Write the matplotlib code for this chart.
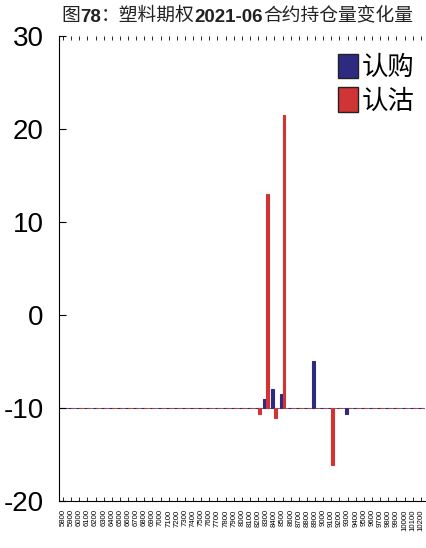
import matplotlib.pyplot as plt
import numpy as np

plt.rcParams['font.family'] = ['Liberation Sans', 'Noto Sans CJK SC']
plt.rcParams['axes.unicode_minus'] = False

strikes = [str(s) for s in range(5800, 10300, 100)]
# change in open interest, bars start from the -10 baseline
call_chg = [0] * 45
put_chg = [0] * 45
call_chg[strikes.index('8300')] = 1.0
call_chg[strikes.index('8400')] = 2.0
call_chg[strikes.index('8500')] = 1.5
call_chg[strikes.index('8900')] = 5.0
call_chg[strikes.index('9300')] = -0.6
put_chg[strikes.index('8200')] = -0.6
put_chg[strikes.index('8300')] = 23.0
put_chg[strikes.index('8400')] = -1.1
put_chg[strikes.index('8500')] = 31.5
put_chg[strikes.index('9100')] = -6.1
base = -10

fig = plt.figure(figsize=(4.27, 5.48), dpi=100)
ax = fig.add_axes([0.138, 0.0858, 0.857, 0.8485])

x = np.arange(len(strikes))
w = 0.36
ax.bar(x - w / 2, call_chg, w, bottom=base, color='#2e2a82', edgecolor='#2e2a82',
       linewidth=0.8, label='认购')
ax.bar(x + w / 2, put_chg, w, bottom=base, color='#d03434', edgecolor='#d03434',
       linewidth=0.8, label='认沽')
ax.axhline(base, color='#555555', linewidth=0.6, zorder=0)

ax.set_ylim(-20, 30)
ax.set_xlim(-0.5, len(strikes) - 0.5)
ax.set_yticks([-20, -10, 0, 10, 20, 30])
ax.tick_params(axis='y', direction='in', labelsize=20, length=5, pad=11)
ax.set_xticks(x)
ax.set_xticklabels(strikes, rotation=90, fontsize=5.6)
ax.tick_params(axis='x', direction='in', top=True, length=3, width=0.6, pad=6)
ax.spines['right'].set_visible(False)
ax.spines['top'].set_visible(False)

leg = ax.legend(loc='upper right', bbox_to_anchor=(1.0, 0.985), frameon=False,
                prop={'family': ['Noto Sans CJK SC'], 'size': 19},
                handlelength=0.75, handleheight=1.05, handletextpad=0.15,
                labelspacing=0.25, borderaxespad=0)
for h in leg.legend_handles:
    h.set_edgecolor('#222222')
    h.set_linewidth(1.0)

# title with bold digits
parts = [('图', 'normal'), ('78', 'bold'), ('：塑料期权', 'normal'),
         ('2021-06', 'bold'), ('合约持仓量变化量', 'normal')]
t = fig.text(0.143, 0.962, parts[0][0], fontsize=13.5, fontweight=parts[0][1],
             family=['Noto Sans CJK SC'], va='baseline', color='#222222')
for txt, wt in parts[1:]:
    fam = ['Liberation Sans'] if wt == 'bold' else ['Noto Sans CJK SC']
    t = ax.annotate(txt, xy=(1, 0), xycoords=t, va='bottom', fontsize=13.5,
                    fontweight=wt, family=fam, color='#222222')

fig.savefig('out.png', dpi=100)
